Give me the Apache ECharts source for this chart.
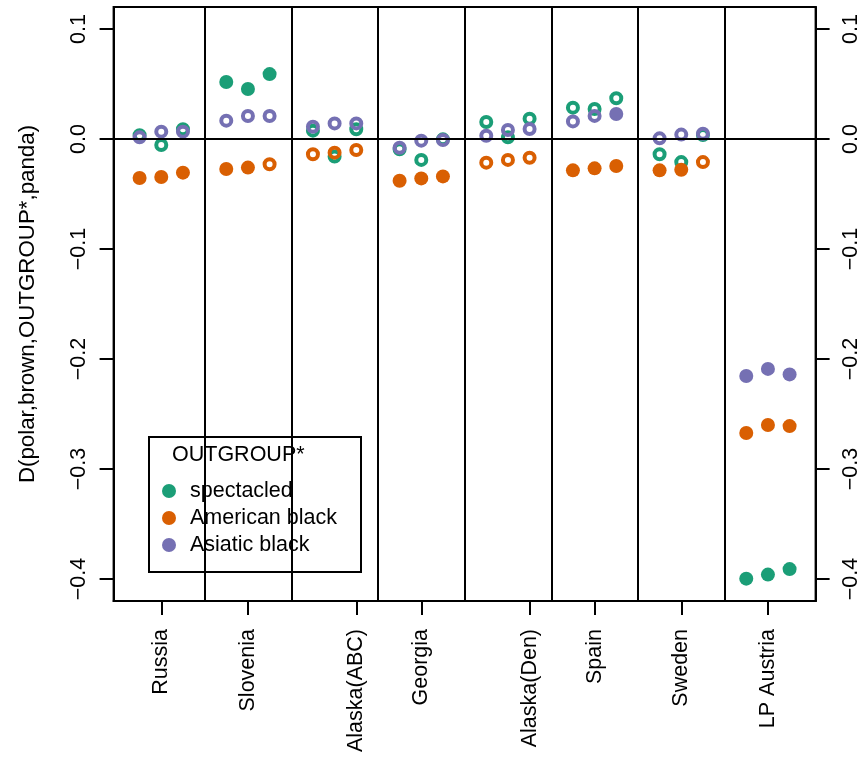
<!DOCTYPE html>
<html>
<head>
<meta charset="utf-8">
<script src="https://cdn.jsdelivr.net/npm/echarts@6/dist/echarts.min.js"></script>
<style>
  html, body { margin: 0; padding: 0; background: #ffffff; }
  #chart { width: 866px; height: 758px; }
</style>
</head>
<body>
<div id="chart"></div>
<script>
// Populations along the x axis
const populations = ['Russia', 'Slovenia', 'Alaska(ABC)', 'Georgia', 'Alaska(Den)', 'Spain', 'Sweden', 'LP Austria'];
// x position of each population's tick and label (the Alaska labels sit under the third replicate)
const labelSlots = [1, 2, 3.25, 4, 5.25, 6, 7, 8];
// three replicate estimates per population, spread around the group position
const replicateOffsets = [-0.25, 0, 0.25];

// y ticks and their printed labels
const yTicks = [-0.4, -0.3, -0.2, -0.1, 0, 0.1];
const yTickLabels = ['\u22120.4', '\u22120.3', '\u22120.2', '\u22120.1', '0.0', '0.1'];

const outgroups = ['spectacled', 'American black', 'Asiatic black'];
const outgroupColors = ['#1B9E77', '#D95F02', '#7570B3'];

// D statistics, three replicates per population (population order as above)
const spectacled = [
  0.0035, -0.0055, 0.0088,
  0.0518, 0.0455, 0.0590,
  0.0076, -0.0160, 0.0088,
  -0.0094, -0.0190, -0.0003,
  0.0155, 0.0015, 0.0185,
  0.0285, 0.0273, 0.0370,
  -0.0139, -0.0210, 0.0036,
  -0.3997, -0.3960, -0.3910
];
const americanBlack = [
  -0.0355, -0.0345, -0.0306,
  -0.0273, -0.0260, -0.0230,
  -0.0139, -0.0124, -0.0100,
  -0.0380, -0.0358, -0.0340,
  -0.0215, -0.0190, -0.0170,
  -0.0285, -0.0267, -0.0245,
  -0.0285, -0.0279, -0.0210,
  -0.2673, -0.2600, -0.2610
];
const asiaticBlack = [
  0.0015, 0.0067, 0.0067,
  0.0167, 0.0209, 0.0209,
  0.0112, 0.0142, 0.0142,
  -0.0079, -0.0015, -0.0009,
  0.0030, 0.0082, 0.0091,
  0.0160, 0.0210, 0.0227,
  0.0006, 0.0040, 0.0048,
  -0.2155, -0.2090, -0.2140
];

// 1 = significant (solid dot), 0 = not significant (open ring)
const spectacledSig = [
  0, 0, 0,  1, 1, 1,  0, 0, 0,  0, 0, 0,
  0, 0, 0,  0, 0, 0,  0, 0, 0,  1, 1, 1
];
const americanBlackSig = [
  1, 1, 1,  1, 1, 0,  0, 0, 0,  1, 1, 1,
  0, 0, 0,  1, 1, 1,  1, 1, 0,  1, 1, 1
];
const asiaticBlackSig = [
  0, 0, 0,  0, 0, 0,  0, 0, 0,  0, 0, 0,
  0, 0, 0,  0, 0, 1,  0, 0, 0,  1, 1, 1
];

// vertical dividers between populations
const dividers = [1.5, 2.5, 3.5, 4.5, 5.5, 6.5, 7.5];

const FONT = 'Liberation Sans, Arial, Helvetica, sans-serif';
const FS = 21.5;

function buildPoints(values, sig, color) {
  return values.map(function (v, i) {
    const group = Math.floor(i / 3) + 1;
    const x = group + replicateOffsets[i % 3];
    if (sig[i]) {
      return { value: [x, v], symbolSize: 14, itemStyle: { color: color, borderWidth: 0, opacity: 1 } };
    }
    return {
      value: [x, v],
      symbolSize: 10,
      itemStyle: { color: 'rgba(0,0,0,0)', borderColor: color, borderWidth: 4, opacity: 1 }
    };
  });
}

const seriesValues = [spectacled, americanBlack, asiaticBlack];
const seriesSig = [spectacledSig, americanBlackSig, asiaticBlackSig];

const series = outgroups.map(function (name, k) {
  return {
    name: name,
    type: 'scatter',
    symbol: 'circle',
    itemStyle: { color: outgroupColors[k], opacity: 1 },
    emphasis: { disabled: true },
    data: buildPoints(seriesValues[k], seriesSig[k], outgroupColors[k]),
    z: 3
  };
});

// reference lines: zero line and population dividers
series.push({
  name: 'guides',
  type: 'line',
  data: [],
  silent: true,
  z: 2,
  markLine: {
    silent: true,
    symbol: ['none', 'none'],
    label: { show: false },
    lineStyle: { color: '#000', width: 2, type: 'solid' },
    data: [{ yAxis: 0 }].concat(dividers.map(function (d) { return { xAxis: d }; }))
  }
});

function yLabel(v) {
  for (let i = 0; i < yTicks.length; i++) {
    if (Math.abs(yTicks[i] - v) < 1e-9) return yTickLabels[i];
  }
  return '';
}
function xLabel(v) {
  for (let i = 0; i < labelSlots.length; i++) {
    if (Math.abs(labelSlots[i] - v) < 1e-9) return populations[i];
  }
  return '';
}

function yAxisConfig(pos) {
  return {
    type: 'value',
    position: pos,
    min: -0.42,
    max: 0.12,
    axisLine: { show: true, lineStyle: { color: '#000', width: 2 } },
    axisTick: { show: true, length: 14, customValues: yTicks, lineStyle: { color: '#000', width: 2 } },
    axisLabel: {
      customValues: yTicks,
      rotate: 90,
      margin: 24,
      formatter: yLabel,
      color: '#000',
      fontSize: FS,
      fontFamily: FONT
    },
    splitLine: { show: false }
  };
}

const leftAxis = yAxisConfig('left');
leftAxis.name = 'D(polar,brown,OUTGROUP*,panda)';
leftAxis.nameLocation = 'middle';
leftAxis.nameGap = 75;
leftAxis.nameTextStyle = { color: '#000', fontSize: 22.3, fontFamily: FONT };
const rightAxis = yAxisConfig('right');

const chart = echarts.init(document.getElementById('chart'), null, { renderer: 'canvas' });
chart.setOption({
  animation: false,
  backgroundColor: '#ffffff',
  grid: {
    left: 113.6, right: 50.4, top: 7, bottom: 157,
    show: true, borderColor: '#000', borderWidth: 2, backgroundColor: 'transparent'
  },
  xAxis: {
    type: 'value',
    min: 0.45,
    max: 8.55,
    axisLine: { show: true, onZero: false, lineStyle: { color: '#000', width: 2 } },
    axisTick: { show: true, length: 14, customValues: labelSlots, lineStyle: { color: '#000', width: 2 } },
    axisLabel: {
      customValues: labelSlots,
      rotate: 90,
      margin: 28,
      formatter: xLabel,
      color: '#000',
      fontSize: FS,
      fontFamily: FONT
    },
    splitLine: { show: false }
  },
  yAxis: [leftAxis, rightAxis],
  legend: {
    data: outgroups.map(function (n) { return { name: n, icon: 'circle' }; }),
    orient: 'vertical',
    left: 162,
    top: 480,
    padding: 0,
    itemWidth: 14,
    itemHeight: 14,
    itemGap: 5,
    selectedMode: false,
    z: 10,
    textStyle: { color: '#000', fontSize: FS, fontFamily: FONT, padding: [0, 0, 0, 9] }
  },
  graphic: [
    {
      type: 'rect',
      left: 148, top: 436,
      shape: { width: 212, height: 135 },
      style: { fill: '#fff', stroke: '#000', lineWidth: 2 },
      z: 3
    },
    {
      type: 'text',
      left: 172, top: 444,
      style: { text: 'OUTGROUP*', fill: '#000', font: FS + 'px ' + FONT },
      z: 11
    }
  ],
  series: series
});
</script>
</body>
</html>
